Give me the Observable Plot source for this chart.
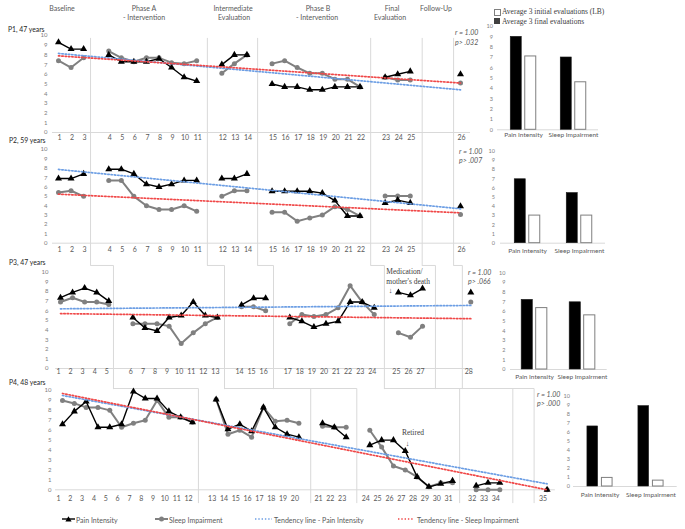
<!DOCTYPE html>
<html><head><meta charset="utf-8">
<script src="https://cdn.jsdelivr.net/npm/d3@7"></script>
<script src="https://cdn.jsdelivr.net/npm/@observablehq/plot@0.6"></script>
<style>
body{margin:0;background:#fff;}
#c{position:relative;width:685px;height:529px;overflow:hidden;font-family:Lato,"Open Sans",sans-serif;color:#595959;background:#fff;}
.a{position:absolute;white-space:nowrap;line-height:1;}
.hd{font-size:7px;transform:translate(-50%,-50%);}
.lb{font-size:6.8px;color:#262626;transform:translateY(-50%);}
.rp{font-size:7px;font-style:italic;transform:translateY(-50%);}
.sf{font-family:"Liberation Serif","DejaVu Serif",serif;font-size:7.5px;color:#404040;transform:translateY(-50%);}
.lg{font-size:7px;transform:translateY(-50%);}
</style></head><body><div id="c"></div>
<script>
// ---------- data ----------
const phaseGaps = [0, 1, 1, 1, 1, 3];
const yTicks = [0, 1, 2, 3, 4, 5, 6, 7, 8, 9, 10];

const p1Groups = [3, 8, 3, 8, 3, 1];
const p1Pain  = [9.3, 8.6, 8.6, 8.0, 7.3, 7.3, 7.3, 7.6, 6.7, 5.7, 5.3, 7.0, 8.0, 8.0, 5.0, 4.7, 4.7, 4.4, 4.4, 4.7, 4.7, 4.7, 5.7, 6.0, 6.3, 6.0];
const p1Sleep = [7.4, 6.7, 7.7, 8.4, 7.7, 7.3, 7.7, 7.7, 7.2, 7.1, 7.4, 6.1, 7.1, 8.0, 7.1, 7.4, 6.7, 6.1, 6.1, 5.5, 5.5, 4.7, 5.7, 5.4, 5.4, 5.1];
const p1TrendPain = [8.15, 4.4];
const p1TrendSleep = [7.9, 5.1];
const p1Seps = [3.55, 12.85, 16.85, 25.85, 29.95, 32.45];
const p1SepSpan = [0, 9.7];

const p2Groups = [3, 8, 3, 8, 3, 1];
const p2Pain  = [6.9, 6.9, 7.4, 7.9, 7.9, 7.4, 6.3, 6.0, 6.3, 6.7, 6.7, 6.9, 6.9, 7.4, 5.55, 5.55, 5.55, 5.55, 5.35, 4.55, 2.9, 2.9, 4.3, 4.6, 4.3, 3.95];
const p2Sleep = [5.4, 5.6, 5.0, 6.7, 6.7, 5.0, 4.0, 3.6, 3.6, 4.0, 3.4, 5.0, 5.6, 5.6, 3.3, 3.3, 2.35, 2.7, 3.0, 3.9, 3.6, 2.9, 5.05, 5.05, 5.05, 3.05];
const p2TrendPain = [7.87, 3.67];
const p2TrendSleep = [5.23, 3.24];
const p2Seps = [3.55, 12.85, 16.85, 25.85, 29.95, 32.45];
const p2SepSpan = [-2.4, 11.8];

const p3Groups = [5, 8, 3, 8, 3, 1];
const p3Pain  = [7.35, 7.9, 8.35, 7.9, 7.0, 5.3, 4.2, 3.9, 5.3, 5.5, 6.9, 5.5, 5.3, 6.6, 7.3, 7.3, 5.3, 4.9, 4.3, 4.65, 4.9, 6.9, 6.9, 6.3, 7.9, 7.6, 8.3, 7.9];
const p3Sleep = [6.9, 7.35, 6.9, 6.9, 6.65, 4.65, 4.65, 4.65, 4.4, 2.6, 3.7, 4.65, 5.3, 6.4, 6.4, 6.0, 4.65, 5.6, 5.4, 5.6, 6.3, 8.6, 6.9, 5.6, 3.7, 3.25, 4.4, 6.9];
const p3TrendPain = [6.2, 6.55];
const p3TrendSleep = [5.7, 5.17];
const p3Seps = [5.39, 14.59, 18.65, 27.84, 32.07, 34.3];
const p3SepSpan = [-2.1, 10.7];
const p3Notes = [
  {pos: 28.0, v: 10.07, text: "Medication/"},
  {pos: 28.0, v: 9.03, text: "mother's death"},
  {pos: 28.2, v: 8.05, text: "↓"}
];

const p4Groups = [12, 8, 3, 8, 3, 1];
const p4Pain  = [6.6, 7.9, 8.9, 6.3, 6.3, 6.6, 9.9, 9.2, 9.2, 7.9, 7.3, 6.8, 9.1, 6.1, 6.6, 5.9, 8.3, 6.3, 5.6, 5.3, 6.7, 6.3, 5.3, 4.5, 5.0, 5.0, 3.9, 1.3, 0.3, 0.6, 0.9, 0.4, 0.7, 0.7, 0.0];
const p4Sleep = [9.0, 8.7, 8.3, 8.3, 8.0, 6.3, 6.7, 7.0, 9.0, 7.3, 7.3, 6.8, 9.1, 5.6, 6.0, 5.3, 8.3, 6.9, 7.0, 6.7, 6.4, 6.3, 6.3, 6.0, 4.3, 2.4, 2.0, 1.3, 0.3, 0.7, 0.7, 0.0, 0.0, 0.0, 0.0];
const p4TrendPain = [9.5, 0.6];
const p4TrendSleep = [9.7, 0.0];
const p4Seps = [12.5, 22.0, 25.9, 34.6, 39.1, 40.9];
const p4SepSpan = [-1.3, 10.2];
const p4Notes = [
  {pos: 30.65, v: 5.75, text: "Retired"},
  {pos: 30.2, v: 4.7, text: "↓"}
];

const barCats = ["Pain Intensity", "Sleep Impairment"];
const b1Final = [9.0, 7.0],  b1Initial = [7.1, 4.6];
const b2Final = [6.95, 5.45], b2Initial = [3.0, 3.0];
const b3Final = [7.2, 6.95], b3Initial = [6.35, 5.6];
const b4Final = [6.65, 8.9], b4Initial = [0.95, 0.65];

// ---------- styling ----------
const BLUE = "#6c9ee4", RED = "#f04848", GRAY = "#808080", RULE = "#d9d9d9";
const DASH = "1.4 1.9";
const C = document.getElementById("c");

function layout(groups) {
  const out = []; let pos = 0;
  groups.forEach((n, g) => { pos += phaseGaps[g]; for (let i = 0; i < n; i++) { pos += 1; out.push({pos, phase: g}); } });
  return out;
}
function place(el, left, top) {
  el.style.position = "absolute"; el.style.left = left + "px"; el.style.top = top + "px";
  C.appendChild(el);
}
function txt(s, x, y, cls, extra = "") {
  const d = document.createElement("div");
  d.className = "a " + cls; d.style.cssText += `left:${x}px;top:${y}px;${extra}`;
  d.textContent = s; C.appendChild(d);
}

const cfg = [
  {top: 25, height: 130, mt: 10, mb: 23, ml: 58, width: 480, mr: 20, dom: [1, 33], groups: p1Groups, pain: p1Pain, sleep: p1Sleep, tp: p1TrendPain, ts: p1TrendSleep, seps: p1Seps, span: p1SepSpan, zero: [0.52, 33.8], xdy: 7.5, xdx: 1, ydx: -11, notes: [], anchor: "start"},
  {top: 130, height: 145, mt: 19, mb: 32.3, ml: 58, width: 480, mr: 20, dom: [1, 33], groups: p2Groups, pain: p2Pain, sleep: p2Sleep, tp: p2TrendPain, ts: p2TrendSleep, seps: p2Seps, span: p2SepSpan, zero: [0.52, 33.8], xdy: 8.3, xdx: 1, ydx: -11, notes: [], anchor: "start"},
  {top: 255, height: 145, mt: 16.7, mb: 32, ml: 60, width: 480, mr: 9.7, dom: [1, 35], groups: p3Groups, pain: p3Pain, sleep: p3Sleep, tp: p3TrendPain, ts: p3TrendSleep, seps: p3Seps, span: p3SepSpan, zero: [0.6, 35], xdy: 5.5, xdx: -2, ydx: -12, notes: p3Notes, anchor: "start", stepFrom: 1},
  {top: 380, height: 130, mt: 10, mb: 20.7, ml: 62, width: 560, mr: 13.4, dom: [1, 42], groups: p4Groups, pain: p4Pain, sleep: p4Sleep, tp: p4TrendPain, ts: p4TrendSleep, seps: p4Seps, span: p4SepSpan, zero: [0.41, 42.7], xdy: 10.7, xdx: -4, ydx: -11, notes: p4Notes, anchor: "middle", stepFrom: 2}
];
const pxScale = c => d3.scaleLinear(c.dom, [c.ml, c.width - c.mr]);

cfg.forEach((c, idx) => {
  const rows = layout(c.groups).map((d, i) => ({...d, session: i + 1, pain: c.pain[i], sleep: c.sleep[i]}));
  const last = rows[rows.length - 1].pos;
  const trendP = [{x: 1, y: c.tp[0]}, {x: last, y: c.tp[1]}];
  const trendS = [{x: 1, y: c.ts[0]}, {x: last, y: c.ts[1]}];
  let sepMark;
  if (c.stepFrom == null) {
    sepMark = Plot.ruleX(c.seps, {y1: () => c.span[0], y2: () => c.span[1], stroke: RULE, strokeWidth: 1});
  } else {
    const up = cfg[c.stepFrom], ux = pxScale(up), lx = pxScale(c);
    const stepRows = c.seps.flatMap((s, k) => {
      const from = lx.invert(ux(up.seps[k]));
      return [{k, x: from, y: c.span[1]}, {k, x: s, y: c.span[1]}, {k, x: s, y: c.span[0]}];
    });
    sepMark = Plot.line(stepRows, {x: "x", y: "y", z: "k", stroke: RULE, strokeWidth: 1});
  }
  const svg = Plot.plot({
    width: c.width, height: c.height,
    marginTop: c.mt, marginBottom: c.mb, marginLeft: c.ml, marginRight: c.mr,
    x: {domain: c.dom, axis: null},
    y: {domain: [0, 10], axis: null},
    style: {background: "none", overflow: "visible", fontFamily: "Lato, 'Open Sans', sans-serif", color: "#595959"},
    marks: [
      Plot.ruleY([0], {x1: () => c.zero[0], x2: () => c.zero[1], stroke: RULE}),
      sepMark,
      Plot.text(yTicks, {y: d => d, text: d => String(d), frameAnchor: "left", textAnchor: "end", dx: c.ydx, fontSize: 6, fill: "#808080"}),
      Plot.text(rows, {x: "pos", text: d => String(d.session), frameAnchor: "bottom", dy: c.xdy, dx: c.xdx, fontSize: 7, fill: "#595959"}),
      Plot.line(rows, {x: "pos", y: "sleep", z: "phase", stroke: GRAY, strokeWidth: 2}),
      Plot.dot(rows, {x: "pos", y: "sleep", r: 2.5, fill: GRAY, symbol: "circle"}),
      Plot.line(rows, {x: "pos", y: "pain", z: "phase", stroke: "#000", strokeWidth: 1.4}),
      Plot.dot(rows, {x: "pos", y: "pain", r: 2.6, fill: "#000", symbol: "triangle"}),
      Plot.line(trendP, {x: "x", y: "y", stroke: BLUE, strokeWidth: 1.7, strokeDasharray: DASH}),
      Plot.line(trendS, {x: "x", y: "y", stroke: RED, strokeWidth: 1.7, strokeDasharray: DASH}),
      Plot.text(c.notes, {x: "pos", y: "v", text: "text", textAnchor: c.anchor, fontSize: 7.5, fill: "#404040", fontFamily: "'Liberation Serif', serif"})
    ]
  });
  place(svg, 0, c.top);
});

// ---------- bar charts ----------
const bcfg = [
  {left: 470, top: 15, width: 140, height: 130, ml: 27, mr: 12, mt: 11, mb: 15.7, ydx: -4.5, cdy: 7.5, fin: b1Final, ini: b1Initial},
  {left: 470, top: 140, width: 145, height: 125, ml: 30, mr: 10, mt: 10.7, mb: 22.3, ydx: -5.5, cdy: 10, fin: b2Final, ini: b2Initial},
  {left: 470, top: 262, width: 150, height: 125, ml: 40, mr: 13.3, mt: 10.3, mb: 18, ydx: -5, cdy: 9.3, fin: b3Final, ini: b3Initial},
  {left: 540, top: 385, width: 145, height: 125, ml: 33, mr: 8.3, mt: 10.7, mb: 24, ydx: -3.5, cdy: 10, fin: b4Final, ini: b4Initial}
];
bcfg.forEach(b => {
  const data = barCats.map((cat, i) => ({cat, fin: b.fin[i], ini: b.ini[i]}));
  const bw = (b.width - b.ml - b.mr) / 2, barW = 11.5, gap = 3;
  const svg = Plot.plot({
    width: b.width, height: b.height,
    marginTop: b.mt, marginBottom: b.mb, marginLeft: b.ml, marginRight: b.mr,
    x: {type: "band", domain: barCats, padding: 0, axis: null},
    y: {domain: [0, 10], axis: null},
    style: {background: "none", overflow: "visible", fontFamily: "Lato, 'Open Sans', sans-serif", color: "#595959"},
    marks: [
      Plot.ruleY([0], {stroke: RULE}),
      Plot.barY(data, {x: "cat", y: "fin", fill: "#000", stroke: "#1a1a1a", strokeWidth: 0.6, insetLeft: bw / 2 - gap / 2 - barW, insetRight: bw / 2 + gap / 2}),
      Plot.barY(data, {x: "cat", y: "ini", fill: "#fff", stroke: "#7f7f7f", strokeWidth: 1, insetLeft: bw / 2 + gap / 2, insetRight: bw / 2 - gap / 2 - barW}),
      Plot.text(yTicks, {y: d => d, text: d => String(d), frameAnchor: "left", textAnchor: "end", dx: b.ydx, fontSize: 5.5, fill: "#808080"}),
      Plot.text(barCats, {x: d => d, text: d => d, frameAnchor: "bottom", dy: b.cdy, fontSize: 6.5, fill: "#595959"})
    ]
  });
  place(svg, b.left, b.top);
});

// ---------- texts ----------
txt("Baseline", 62, 7.5, "hd");
txt("Phase A", 144, 7.5, "hd"); txt("- Intervention", 144, 17.3, "hd");
txt("Intermediate", 233, 7.5, "hd"); txt("Evaluation", 234, 17.3, "hd");
txt("Phase B", 318, 7.5, "hd"); txt("- Intervention", 317, 17.3, "hd");
txt("Final", 392, 7.5, "hd"); txt("Evaluation", 390, 17.3, "hd");
txt("Follow-Up", 436, 7.5, "hd");

txt("P1, 47 years", 8, 28.5, "lb");
txt("P2, 59 years", 9, 140, "lb");
txt("P3, 47 years", 9, 262, "lb");
txt("P4, 48 years", 9, 382, "lb");

txt("r = 1.00", 455, 32, "rp"); txt("p> .032", 455, 42, "rp");
txt("r = 1.00", 459, 150.5, "rp"); txt("p> .007", 459, 159.5, "rp");
txt("r = 1.00", 468, 272, "rp"); txt("p> .066", 468, 281, "rp");
txt("r = 1.00", 537, 394, "rp"); txt("p> .000", 537, 403, "rp");

// bar legend
const bl = document.createElement("div"); bl.className = "a";
bl.style.cssText = "left:494px;top:8.5px;width:5px;height:5px;border:0.8px solid #7f7f7f;background:#fff;"; C.appendChild(bl);
const bd = document.createElement("div"); bd.className = "a";
bd.style.cssText = "left:494px;top:18px;width:6.4px;height:6.4px;background:#404040;"; C.appendChild(bd);
txt("Average 3 initial evaluations (LB)", 502, 12, "sf");
txt("Average 3 final evaluations", 502, 21.5, "sf");

// bottom legend
const ns = "http://www.w3.org/2000/svg";
const lsvg = document.createElementNS(ns, "svg");
lsvg.setAttribute("width", 685); lsvg.setAttribute("height", 20);
lsvg.innerHTML = `
<line x1="62" x2="75" y1="9" y2="9" stroke="#000" stroke-width="1.4"/>
<path d="M68.5,6.2L71.6,11.4L65.4,11.4Z" fill="#000"/>
<line x1="155" x2="168" y1="9" y2="9" stroke="${GRAY}" stroke-width="2"/>
<circle cx="161.5" cy="9" r="2.5" fill="${GRAY}"/>
<line x1="255" x2="272" y1="9" y2="9" stroke="${BLUE}" stroke-width="1.7" stroke-dasharray="${DASH}"/>
<line x1="398" x2="414" y1="9" y2="9" stroke="${RED}" stroke-width="1.7" stroke-dasharray="${DASH}"/>`;
lsvg.style.cssText = "position:absolute;left:0;top:510px;";
C.appendChild(lsvg);
txt("Pain Intensity", 76, 519.5, "lg");
txt("Sleep Impairment", 169, 519.5, "lg");
txt("Tendency line - Pain Intensity", 274, 519.5, "lg");
txt("Tendency line - Sleep Impairment", 417, 519.5, "lg");
</script></body></html>
